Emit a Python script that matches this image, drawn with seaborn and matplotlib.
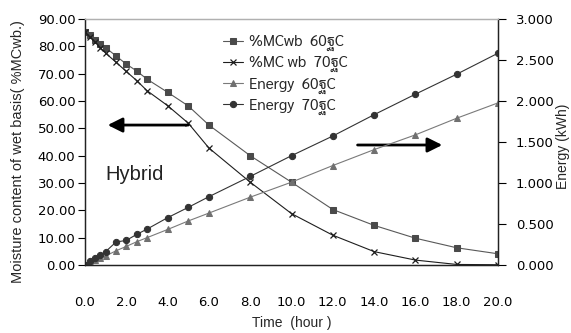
import matplotlib
matplotlib.use("Agg")
import matplotlib.pyplot as plt
from matplotlib import font_manager
from matplotlib.ft2font import FT2Font
import seaborn as sns
import pandas as pd

time_h = [0, 0.25, 0.5, 0.75, 1.0, 1.5, 2.0, 2.5, 3.0, 4.0, 5.0, 6.0, 8.0, 10.0, 12.0, 14.0, 16.0, 18.0, 20.0]
mc_60 = [85.2, 84.0, 82.5, 81.0, 79.5, 76.5, 73.5, 71.0, 68.0, 63.2, 58.2, 51.2, 40.0, 30.3, 20.3, 14.5, 9.8, 6.3, 4.1]
mc_70 = [85.2, 83.3, 81.5, 79.5, 77.5, 74.2, 70.8, 67.5, 63.8, 58.3, 51.9, 42.8, 30.3, 18.8, 10.9, 4.9, 1.8, 0.2, 0.1]
energy_60 = [0.0, 0.033, 0.057, 0.083, 0.110, 0.173, 0.227, 0.283, 0.333, 0.433, 0.537, 0.633, 0.827, 1.010, 1.213, 1.407, 1.587, 1.790, 1.977]
energy_70 = [0.0, 0.050, 0.083, 0.123, 0.163, 0.280, 0.300, 0.373, 0.437, 0.577, 0.703, 0.833, 1.080, 1.333, 1.573, 1.833, 2.083, 2.327, 2.583]

labels = ["%MCwb  60ฐC", "%MC wb  70ฐC", "Energy  60ฐC", "Energy  70ฐC"]
x_ticks = [0, 2, 4, 6, 8, 10, 12, 14, 16, 18, 20]
y_left_ticks = [0, 10, 20, 30, 40, 50, 60, 70, 80, 90]
y_right_ticks = [0, 0.5, 1.0, 1.5, 2.0, 2.5, 3.0]

# pick an installed (static, regular) family that has the Thai letter used in the legend
thai_names = set()
for fe in font_manager.fontManager.ttflist:
    if "[" in fe.fname:
        continue
    try:
        if 0x0E10 in FT2Font(fe.fname).get_charmap():
            thai_names.add(fe.name)
    except Exception:
        pass
thai_family = None
for pref in ["Noto Sans Thai", "Sarabun", "Noto Sans Thai Looped", "Bai Jamjuree", "Athiti"]:
    if pref in thai_names:
        thai_family = pref
        break
if thai_family is None and thai_names:
    thai_family = sorted(thai_names)[0]

sns.set_theme(style="white")
base_fams = ['Liberation Sans', 'DejaVu Sans']
tick_fams = ['DejaVu Sans']
legend_fams = ([thai_family] if thai_family else []) + ['DejaVu Sans']
plt.rcParams['font.family'] = base_fams

fig = plt.figure(figsize=(5.71, 3.33), dpi=100)
ax = fig.add_axes([85/571, 1-265/333, (498-85)/571, (265-19)/333])
ax2 = ax.twinx()

df = pd.DataFrame({"t": time_h, "mc60": mc_60, "mc70": mc_70, "e60": energy_60, "e70": energy_70})

sns.lineplot(data=df, x="t", y="mc60", ax=ax, color="#595959", marker="s", markersize=4.5,
             markeredgecolor="#4a4a4a", markerfacecolor="#4a4a4a", lw=0.8, label=labels[0], legend=False)
sns.lineplot(data=df, x="t", y="mc70", ax=ax, color="#1e1e1e", marker="x", markersize=4,
             markeredgecolor="#1e1e1e", mew=0.9, lw=0.8, label=labels[1], legend=False)
sns.lineplot(data=df, x="t", y="e60", ax=ax2, color="#7a7a7a", marker="^", markersize=4.5,
             markeredgecolor="#707070", markerfacecolor="#707070", lw=0.8, label=labels[2], legend=False)
sns.lineplot(data=df, x="t", y="e70", ax=ax2, color="#333333", marker="o", markersize=4.5,
             markeredgecolor="#333333", markerfacecolor="#333333", lw=0.8, label=labels[3], legend=False)

ax.set_xlim(0, 20)
ax.set_ylim(0, 90)
ax2.set_ylim(0, 3.0)
ax.set_xticks(x_ticks)
ax.set_xticklabels([f"{v:.1f}" for v in x_ticks], family=tick_fams)
ax.set_yticks(y_left_ticks)
ax.set_yticklabels([f"{v:.2f}" for v in y_left_ticks], family=tick_fams)
ax2.set_yticks(y_right_ticks)
ax2.set_yticklabels([f"{v:.3f}" for v in y_right_ticks], family=tick_fams)

ax.set_xlabel("Time  (hour )", fontsize=10, labelpad=5)
ax.set_ylabel("")
ax2.set_ylabel("")
fig.text(18/571, 1-152/333, "Moisture content of wet basis( %MCwb.)", rotation=90,
         ha="center", va="center", fontsize=10.5)
fig.text(563/571, 1-146/333, "Energy (kWh)", rotation=90, ha="center", va="center", fontsize=10)

ax.tick_params(axis="x", direction="out", length=5, width=0.8, pad=17, labelsize=9.5, colors="black")
ax.tick_params(axis="y", direction="out", length=5, width=0.8, pad=2, labelsize=9.5, colors="black")
ax2.tick_params(axis="y", direction="out", length=6, width=0.8, pad=7, labelsize=9.5, colors="black")

for a in (ax, ax2):
    for s in a.spines.values():
        s.set_linewidth(0.9)
        s.set_color("#222222")
    a.spines["top"].set_color("#b0b0b0")
    a.grid(False)

# arrows and annotation
ax.annotate("", xy=(1.1, 51.2), xytext=(5.0, 51.2),
            arrowprops=dict(arrowstyle="-|>", color="black", lw=2, mutation_scale=22, shrinkA=0, shrinkB=0))
ax.annotate("", xy=(17.3, 43.9), xytext=(13.2, 43.9),
            arrowprops=dict(arrowstyle="-|>", color="black", lw=2, mutation_scale=22, shrinkA=0, shrinkB=0))
ax.text(1.0, 33, "Hybrid", fontsize=14.5, va="center", ha="left", color="#222222")

handles = ax.get_lines()[:2] + ax2.get_lines()[:2]
leg = fig.legend(handles, labels, loc="upper left", bbox_to_anchor=(223/571, 1-35/333),
                 bbox_transform=fig.transFigure, frameon=False,
                 prop={"family": legend_fams, "size": 11},
                 handlelength=1.3, handletextpad=0.4, labelspacing=0.33, borderpad=0, borderaxespad=0)

fig.savefig("out.png", dpi=100)
